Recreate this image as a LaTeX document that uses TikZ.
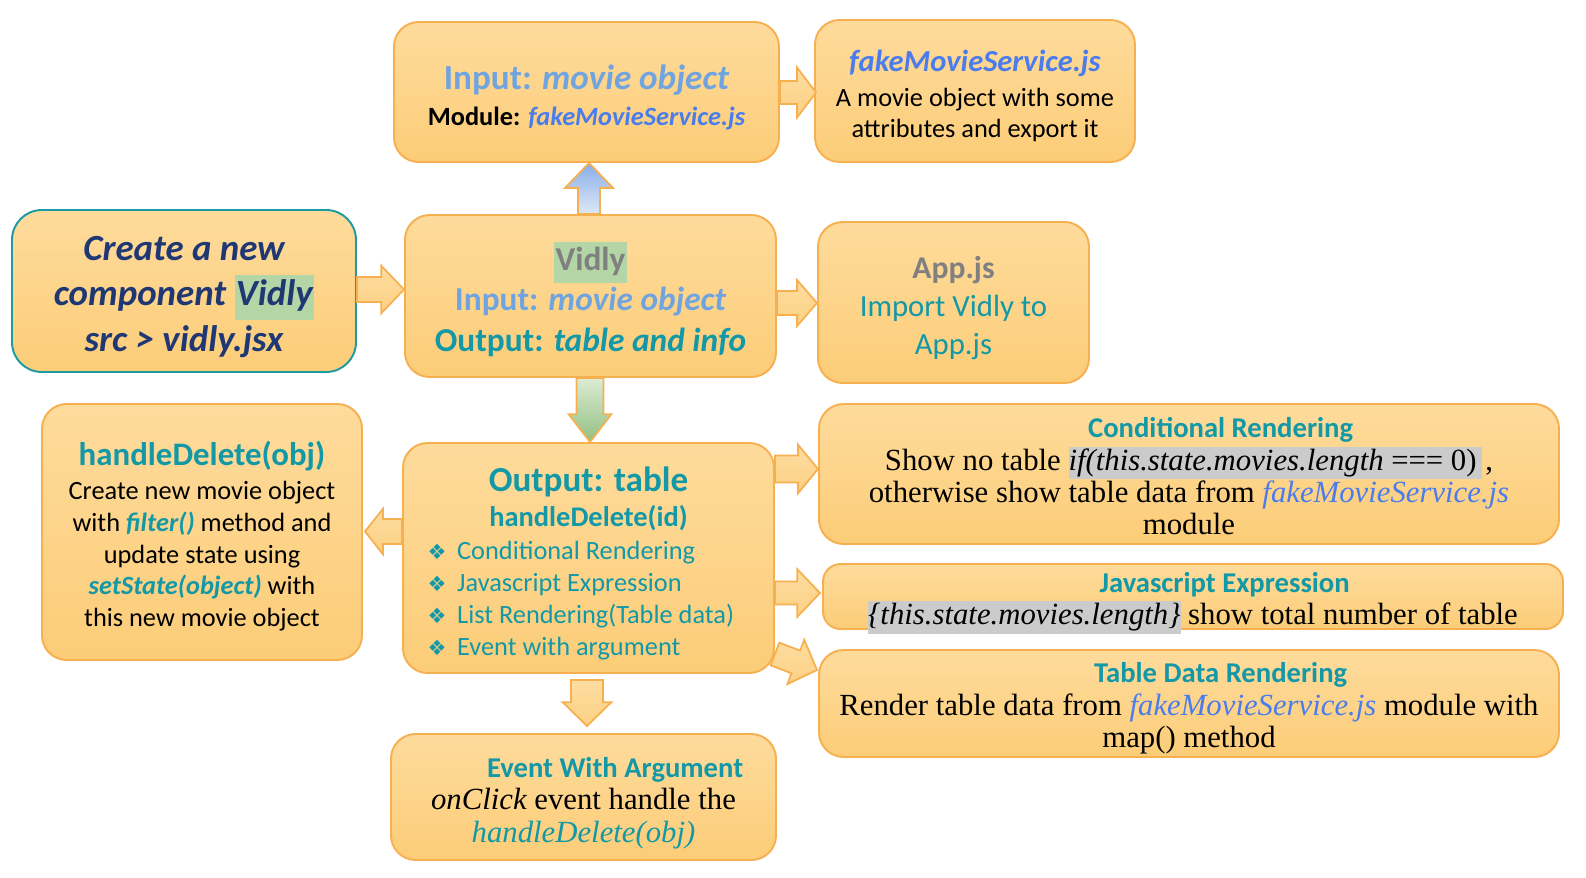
\documentclass[tikz,border=0pt]{standalone}
\usepackage{fontspec}
\setmainfont{Carlito}
\newfontfamily\seriffam{Liberation Serif}
\newfontfamily\dejavu{DejaVu Sans}
\usetikzlibrary{calc}
\definecolor{boxtop}{RGB}{254,219,156}
\definecolor{boxbot}{RGB}{252,205,120}
\definecolor{boxline}{RGB}{247,176,80}
\definecolor{tealline}{RGB}{28,156,162}
\definecolor{arrtop}{RGB}{253,221,162}
\definecolor{arrbot}{RGB}{252,208,130}
\definecolor{bltop}{RGB}{137,173,232}
\definecolor{blbot}{RGB}{222,232,248}
\definecolor{grtop}{RGB}{220,235,212}
\definecolor{grbot}{RGB}{146,192,128}
\definecolor{tealc}{RGB}{18,152,166}
\definecolor{inblue}{RGB}{111,164,224}
\definecolor{fakeblue}{RGB}{74,124,236}
\definecolor{navy}{RGB}{31,56,116}
\definecolor{vgray}{RGB}{128,128,128}
\definecolor{hlgreen}{RGB}{180,213,165}
\definecolor{hlgray}{RGB}{203,203,203}
\newcommand\fsz[2]{\fontsize{#1}{#2}\selectfont}
\newcommand\hlgreenbox[1]{{\setlength\fboxsep{0pt}\colorbox{hlgreen}{\rule[-0.38em]{0pt}{1.22em}\hspace{0.04em}#1\hspace{0.04em}}}}
\newcommand\hlgraybox[1]{{\setlength\fboxsep{0pt}\colorbox{hlgray}{\rule[-0.28em]{0pt}{1.05em}#1}}}
\newcommand\bitem[1]{\makebox[183pt][l]{{\dejavu\fsz{12}{13}❖}\hspace{6pt}#1}}
\newcommand\rtitle[1]{\hspace*{36pt}{\normalfont\fsz{16.3}{18}\bfseries\color{tealc}#1}}
\begin{document}
\begin{tikzpicture}[x=0.02cm,y=-0.02cm,
  box/.style={draw=boxline, line width=1.1pt, top color=boxtop, bottom color=boxbot,
    rounded corners=14pt, inner sep=0pt},
  txt/.style={align=center, inner sep=0pt},
  sz/.style 2 args={minimum width={#1*0.02cm}, minimum height={#2*0.02cm}},
  oarrow/.style={draw=boxline, line width=1pt, top color=arrtop, bottom color=arrbot, line join=miter},
  barrow/.style n args={3}{to path={let \p1=(\tikztostart), \p2=(\tikztotarget),
      \n1={atan2(\y2-\y1,\x2-\x1)}, \n2={veclen(\x2-\x1,\y2-\y1)},
      \p3=($(\p1)+(\n1:{\n2-#3*0.5669pt})$) in
      ($(\p1)+(\n1+90:{#1*0.5669pt})$) -- ($(\p3)+(\n1+90:{#1*0.5669pt})$) --
      ($(\p3)+(\n1+90:{#2*0.5669pt})$) -- (\p2) --
      ($(\p3)+(\n1-90:{#2*0.5669pt})$) -- ($(\p3)+(\n1-90:{#1*0.5669pt})$) --
      ($(\p1)+(\n1-90:{#1*0.5669pt})$) -- cycle}}
]
\fill[white] (0,0) rectangle (1586,877);
\useasboundingbox (0,0) rectangle (1586,877);

% boxes
\node[box, sz={385}{140}] (n1) at (586.5,92) {};
\node[box, sz={320}{142}] (n2) at (975,91) {};
\node[box, draw=tealline, rounded corners=17pt, sz={344}{162}] (n3) at (184,291) {};
\node[box, sz={371}{162}] (n4) at (590.5,296) {};
\node[box, sz={271}{161}] (n5) at (953.5,302.5) {};
\node[box, sz={320}{256}] (n6) at (202,532) {};
\node[box, sz={371}{230}] (n7) at (588.5,558) {};
\node[box, sz={740}{140}] (n8) at (1189,474) {};
\node[box, rounded corners=10pt, sz={740}{65}] (n9) at (1193,596.5) {};
\node[box, sz={740}{107}] (n10) at (1189,703.5) {};
\node[box, sz={385}{126}] (n11) at (583.5,797) {};

% texts
\node[txt, font=\fsz{15}{20.4}] (t1) at ($(n1.center)+(0,5)$)
  {{\fsz{20}{24}\bfseries\color{inblue}Input: \itshape movie object}\\
   {\bfseries Module: \color{fakeblue}\itshape fakeMovieService.js}};

\node[txt, font=\fsz{15}{17.8}] (t2) at ($(n2.center)+(0,5)$)
  {{\fsz{17.4}{20}\bfseries\itshape\color{fakeblue}fakeMovieService.js}\\[2pt]
   A movie object with some\\ attributes and export it};

\node[txt, font=\fsz{21}{26}\bfseries\itshape, text=navy] (t3) at ($(n3.center)+(0,6)$)
  {Create a new\\ component \hlgreenbox{Vidly}\\ src > vidly.jsx};

\node[txt, font=\fsz{19}{23}\bfseries] (t4) at ($(n4.center)+(0,3.5)$)
  {\hlgreenbox{\color{vgray}Vidly}\\
   {\color{inblue}Input: \itshape movie object}\\
   {\color{tealc}Output: \itshape table and info}};

\node[txt, font=\fsz{17.5}{21.5}, text=tealc] (t5) at ($(n5.center)+(0,5.5)$)
  {{\fsz{18}{21.5}\bfseries\color{vgray}App.js}\\ Import Vidly to\\ App.js};

\node[txt, font=\fsz{15}{18.1}] (t6) at ($(n6.center)+(0,4)$)
  {{\fsz{18.7}{22}\bfseries\color{tealc}handleDelete(obj)}\\[1.5pt]
   Create new movie object\\
   with {\bfseries\itshape\color{tealc}filter()} method and\\
   update state using\\
   {\bfseries\itshape\color{tealc}setState(object)} with\\
   this new movie object};

\node[txt, font=\fsz{15}{18.1}, text=tealc] (t7) at ($(n7.center)+(0,5)$)
  {{\fsz{20}{24}\bfseries Output: table}\\[2.3pt]
   {\fsz{16.2}{19}\bfseries handleDelete(id)}\\[0.6pt]
   \bitem{Conditional Rendering}\\
   \bitem{Javascript Expression}\\
   \bitem{List Rendering(Table data)}\\
   \bitem{Event with argument}};

\node[txt, font=\seriffam\fsz{17.5}{18.4}] (t8) at ($(n8.center)+(0,2.5)$)
  {\rtitle{Conditional Rendering}\\
   Show no table \hlgraybox{\itshape if(this.state.movies.length \upshape === 0)\hspace{3pt}}\hspace{2pt},\\
   otherwise show table data from {\itshape\color{fakeblue}fakeMovieService.js}\\
   module};

\node[txt, font=\seriffam\fsz{17.5}{18.4}] (t9) at ($(n9.center)+(0,6.5)$)
  {\rtitle{Javascript Expression}\\
   \hlgraybox{\itshape\{this.state.movies.length\}} show total number of table};

\node[txt, font=\seriffam\fsz{17.5}{18.4}] (t10) at ($(n10.center)+(0,5)$)
  {\rtitle{Table Data Rendering}\\
   Render table data from {\itshape\color{fakeblue}fakeMovieService.js} module with\\
   map() method};

\node[txt, font=\seriffam\fsz{17.5}{18.4}] (t11) at ($(n11.center)+(0,6)$)
  {\rtitle{Event With Argument}\\
   {\itshape onClick} event handle the\\
   {\itshape\color{tealc}handleDelete(obj)}};

% block arrows
\draw[oarrow, barrow={11.5}{25}{19}] (n1.east |- 0,92.5) to ($(n2.west |- 0,92.5)+(2,0)$);
\draw[oarrow, top color=bltop, bottom color=blbot, barrow={11}{24}{25}] (n4.north -| 589,0) to (n1.south -| 589,0);
\draw[oarrow, barrow={12.5}{24}{23}] (n3.east |- 0,289.5) to (n4.west |- 0,289.5);
\draw[oarrow, barrow={12}{23}{20}] (n4.east |- 0,303) to (n5.west |- 0,303);
\draw[oarrow, top color=grtop, bottom color=grbot, barrow={13.6}{21.5}{28}] (n4.south -| 590,0) to (n7.north -| 590,0);
\draw[oarrow, barrow={12.5}{22.7}{18}] (n7.west |- 0,531.5) to ($(n6.east |- 0,531.5)+(2,0)$);
\draw[oarrow, barrow={13.5}{24.3}{20}] (n7.east |- 0,469) to (n8.west |- 0,469);
\draw[oarrow, barrow={11.5}{24}{23}] (n7.east |- 0,593) to ($(n9.west |- 0,593)+(-2,0)$);
\draw[oarrow, barrow={12.2}{23.8}{22.8}] ($(n7.east)+(0,96)$) to ($(n10.west)+(-1,-33.5)$);
\draw[oarrow, barrow={16}{24.5}{24}] ($(n7.south)+(-1.5,6)$) to ($(n11.north)+(3.5,-7)$);
\end{tikzpicture}
\end{document}
